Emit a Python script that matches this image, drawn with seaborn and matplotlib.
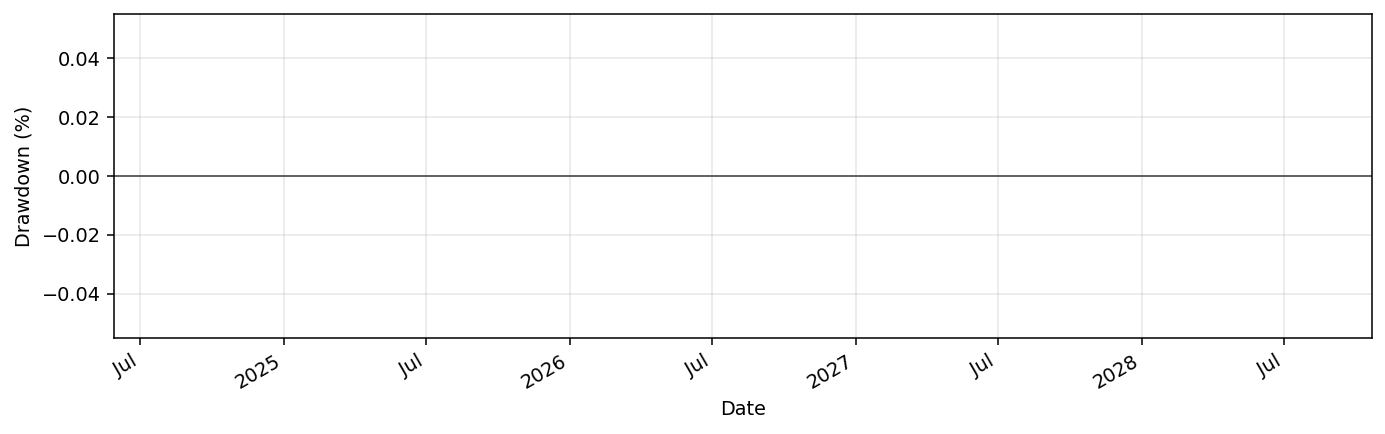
import numpy as np
import pandas as pd
import matplotlib
matplotlib.use("Agg")
import matplotlib.pyplot as plt
import matplotlib.dates as mdates
import seaborn as sns

# ---- data (drawdown is flat at 0 across the whole axis)
start_date = "2024-05-29"
end_date = "2028-10-21"
dates = pd.date_range(start_date, end_date, freq="D")
drawdown = np.zeros(len(dates))  # every value read as 0.00
df = pd.DataFrame({"Date": dates, "Drawdown": drawdown})

x_label = "Date"
y_label = "Drawdown (%)"

# ---- figure
sns.set_style("white")
plt.rcParams.update(plt.rcParamsDefault)
dpi = 138.5
fig, ax = plt.subplots(figsize=(1385 / dpi, 434 / dpi), dpi=dpi)

ax.fill_between(df["Date"], df["Drawdown"], 0, color="red", alpha=0.3, linewidth=0)
sns.lineplot(data=df, x="Date", y="Drawdown", ax=ax, color="#5f5f5f", linewidth=1.0)
ax.margins(x=0)

locator = mdates.AutoDateLocator()
ax.xaxis.set_major_locator(locator)
ax.xaxis.set_major_formatter(mdates.ConciseDateFormatter(locator))

ax.set_xlabel(x_label)
ax.set_ylabel(y_label)
ax.grid(True, alpha=0.3)

fig.autofmt_xdate()
fig.subplots_adjust(left=114 / 1385, right=1372 / 1385, top=1 - 14 / 434, bottom=1 - 338 / 434)

fig.savefig("out.png", dpi=dpi)
